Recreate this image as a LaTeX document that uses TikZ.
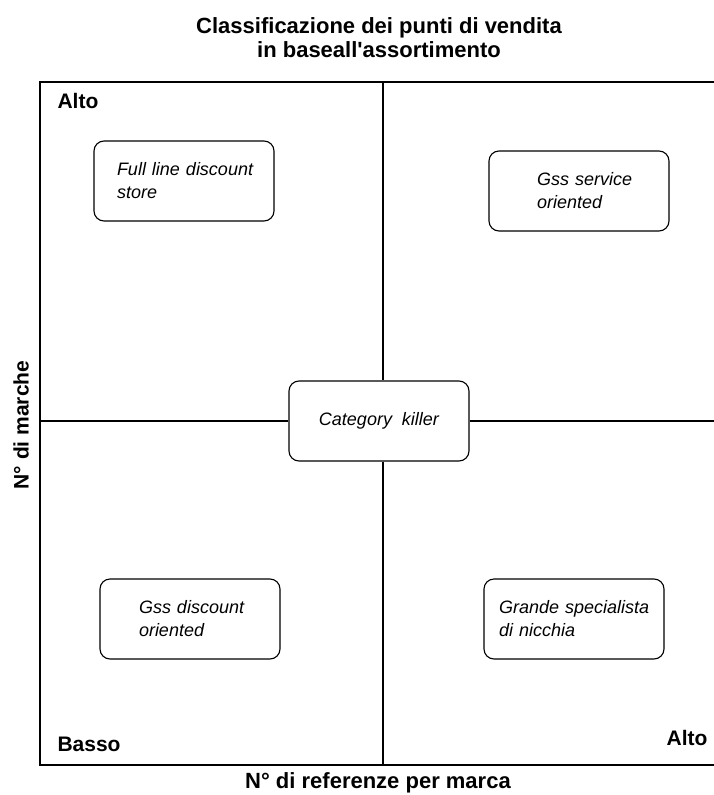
\documentclass[tikz,border=0pt]{standalone}
\usepackage{fontspec}
\setmainfont{Liberation Sans}
\usetikzlibrary{positioning}
\newcommand\storefont{\fontsize{18}{23}\selectfont\itshape\hyphenpenalty=10000\relax}

\begin{document}
\begin{tikzpicture}[x=1pt,y=-1pt,line width=1.1pt]
  \tikzstyle{store}=[draw, rounded corners=10pt, fill=white, minimum width=180pt,
minimum height=80pt, font=\storefont, align=left]
  \tikzstyle{level}=[font=\bfseries\fontsize{21}{24}\selectfont, inner sep=0pt]
  \useasboundingbox (0,0) rectangle (714,795);

  % titolo
  \node[font=\bfseries\fontsize{22}{24}\selectfont, align=center, anchor=base] (title) at (379,57)
    {Classificazione dei punti di vendita\\ in baseall\textquotesingle assortimento};

  % cornice
  \coordinate (NW) at (40,82);
  \coordinate (NE) at (714,82);
  \coordinate (SW) at (40,765);
  \coordinate (SE) at (714,765);
  \draw (NE) -- (NW) -- (SW) -- (SE);

  % quadranti
  \node[store] (killer) at (379,421) {Category\ \ killer};
  \node[store, inner xsep=23pt, text width=134pt] (full) at (184,181)
    {Full~line~discount\\ store};
  \node[store, inner xsep=48pt, text width=84pt] (service) at (579,191)
    {Gss~service\\ oriented};
  \node[store, inner xsep=39pt, text width=102pt] (discount) at (190,619)
    {Gss~discount\\ oriented};
  \node[store, inner xsep=15pt, text width=150pt] (niche) at (574,619)
    {Grande~specialista\\ di~nicchia};

  \coordinate (top) at (383,82);
  \coordinate (bottom) at (383,765);
  \coordinate (left) at (40,421);
  \coordinate (right) at (714,421);
  \draw (top) -- (top |- killer.north);
  \draw (bottom |- killer.south) -- (bottom);
  \draw (left) -- (killer.west);
  \draw (killer.east) -- (right);

  % livelli
  \node[level, anchor=base west] (alto1) at (57,108) {Alto};
  \node[level, anchor=base west] (basso) at (57,751) {Basso};
  \node[level, anchor=base east] (alto2) at (708,745) {Alto};

  % assi
  \node[font=\bfseries\fontsize{22}{24}\selectfont, anchor=base] (xlabel) at (378,788)
    {N° di referenze per marca};
  \node[font=\bfseries\fontsize{21}{24}\selectfont, rotate=90] (ylabel) at (21,425)
    {N° di marche};
\end{tikzpicture}
\end{document}
